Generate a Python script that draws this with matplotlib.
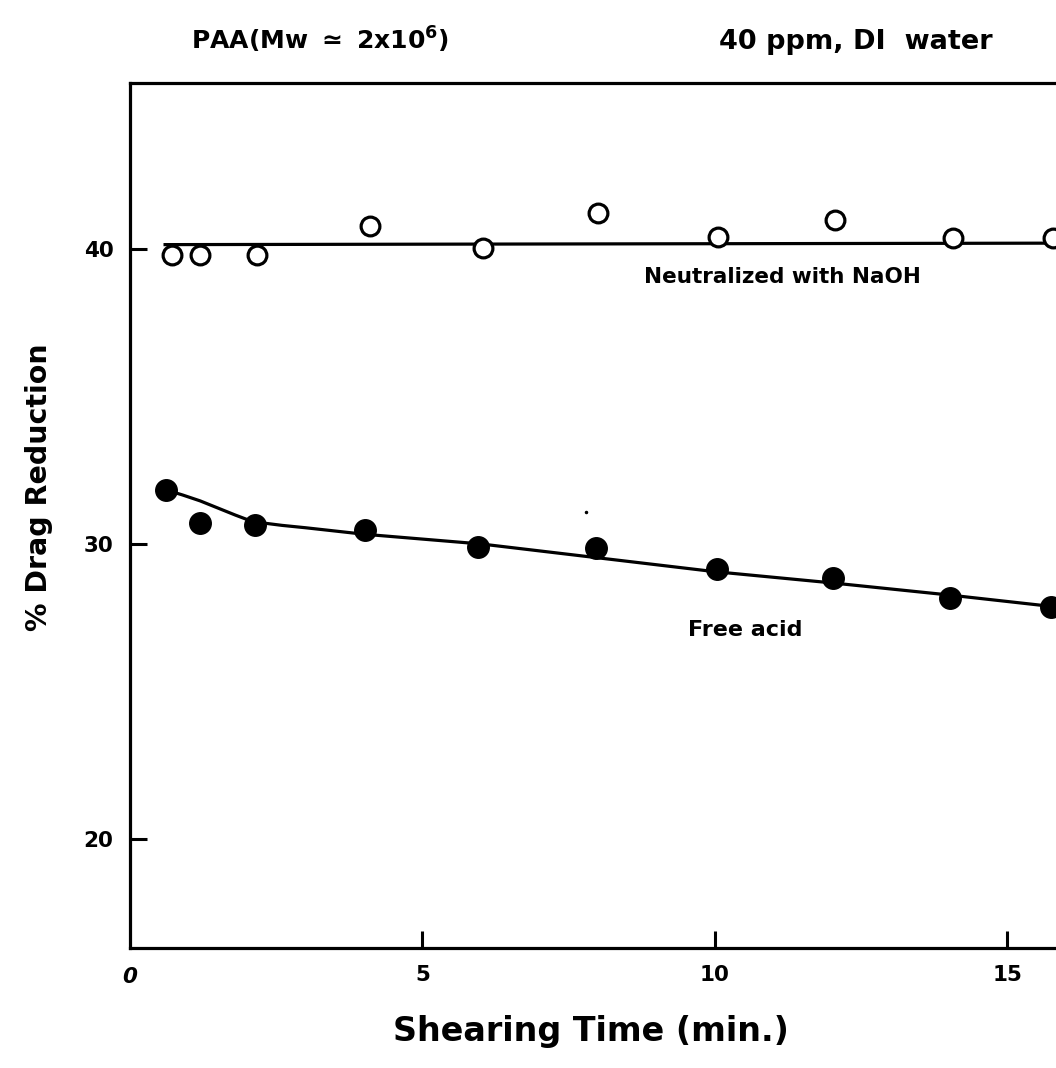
import numpy as np
import matplotlib
matplotlib.use('Agg')
import matplotlib.pyplot as plt

plt.rcParams['font.family'] = ['DejaVu Sans']
plt.rcParams['font.weight'] = 'bold'
plt.rcParams['axes.labelweight'] = 'bold'
plt.rcParams['mathtext.fontset'] = 'custom'
plt.rcParams['mathtext.rm'] = 'DejaVu Sans:bold'
plt.rcParams['mathtext.it'] = 'DejaVu Sans:bold'
plt.rcParams['mathtext.bf'] = 'DejaVu Sans:bold'

# neutralized with NaOH (open circles)
t_naoh = [0.71, 1.20, 2.17, 4.10, 6.03, 8.00, 10.06, 12.05, 14.07, 15.78]
dr_naoh = [39.8, 39.8, 39.8, 40.79, 40.02, 41.21, 40.42, 40.98, 40.36, 40.37]
fit_naoh_t = [0.6, 15.9]
fit_naoh_dr = [40.15, 40.2]

# free acid (filled circles)
t_acid = [0.62, 1.20, 2.14, 4.02, 5.95, 7.96, 10.03, 12.01, 14.02, 15.75]
dr_acid = [31.83, 30.72, 30.64, 30.47, 29.89, 29.85, 29.15, 28.84, 28.16, 27.87]
fit_acid_t = [0.62, 0.9, 1.2, 1.5, 1.8, 2.0, 2.2, 2.6, 3.0, 4.0, 6.0, 8.0, 10.0, 12.0, 14.0, 15.9]
fit_acid_dr = [31.83, 31.66, 31.46, 31.22, 30.98, 30.83, 30.73, 30.63, 30.55, 30.33, 30.0,
               29.53, 29.06, 28.68, 28.27, 27.85]

xticks = [5, 10, 15]
yticks = [20, 30, 40]

fig = plt.figure(figsize=(10.56, 10.68), dpi=100)
ax = fig.add_axes([130 / 1056, 120 / 1068, 1 - 130 / 1056, 865 / 1068])

ax.plot(fit_naoh_t, fit_naoh_dr, color='black', lw=2.3)
ax.plot(fit_acid_t, fit_acid_dr, color='black', lw=2.3)
ax.plot(t_naoh, dr_naoh, 'o', ms=13.5, mfc='white', mec='black', mew=2.3, zorder=3)
ax.plot(t_acid, dr_acid, 'o', ms=15.5, mfc='black', mec='black', zorder=3)
ax.plot([7.8], [31.1], '.', ms=3, color='black')

ax.set_xlim(0, 15.83)
ax.set_ylim(16.3, 45.63)
ax.set_xticks(xticks)
ax.set_yticks(yticks)
ax.tick_params(direction='in', length=12, width=2.2, labelsize=15.5)
ax.tick_params(axis='x', pad=12)
ax.tick_params(axis='y', pad=12)
ax.spines['right'].set_visible(False)
for s in ['left', 'bottom', 'top']:
    ax.spines[s].set_linewidth(2.3)

ax.text(0, -0.022, '0', transform=ax.transAxes, ha='center', va='top',
        fontsize=15.5, style='italic')

fig.text(591 / 1056, 1 - 1032 / 1068, 'Shearing Time (min.)', ha='center', va='center',
         fontsize=24, fontweight='bold')
fig.text(39 / 1056, 1 - 487 / 1068, '% Drag Reduction', ha='center', va='center',
         rotation=90, fontsize=20.5, fontweight='bold')

ax.text(11.16, 39.05, 'Neutralized with NaOH', ha='center', va='center', fontsize=15.5)
ax.text(10.51, 27.08, 'Free acid', ha='center', va='center', fontsize=16)

fig.text(320 / 1056, 1 - 40 / 1068, r'PAA(Mw $\simeq$ 2x10$^{6}$)', ha='center', va='center',
         fontsize=18)
fig.text(856 / 1056, 1 - 42 / 1068, '40 ppm, DI  water', ha='center', va='center',
         fontsize=19.5)

fig.savefig('out.png', dpi=100)
